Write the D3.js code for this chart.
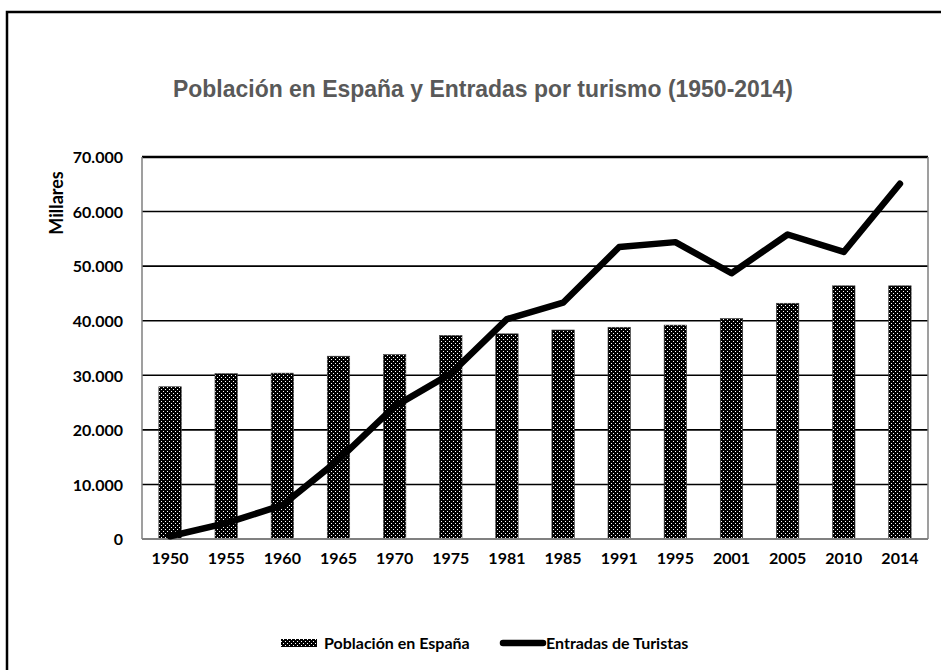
<!DOCTYPE html>
<html>
<head>
<meta charset="utf-8">
<script src="https://cdn.jsdelivr.net/npm/d3@7"></script>
<style>
  body { margin: 0; background: #fff; }
  svg { display: block; }
  .tick text { font-family: Lato, "Open Sans", sans-serif; font-weight: bold; font-size: 16px; fill: #000; }
</style>
</head>
<body>
<div id="chart"></div>
<script>
var years = ["1950","1955","1960","1965","1970","1975","1981","1985","1991","1995","2001","2005","2010","2014"];
var poblacion = [27900, 30300, 30400, 33500, 33800, 37300, 37600, 38300, 38800, 39200, 40400, 43200, 46400, 46400];
var turistas = [500, 2900, 6200, 14500, 24300, 30300, 40300, 43300, 53500, 54400, 48700, 55800, 52600, 65100];
var yTicks = [0, 10000, 20000, 30000, 40000, 50000, 60000, 70000];

var width = 941, height = 670;
var margin = {top: 157, left: 142, right: 13, bottom: 129};

var svg = d3.select("#chart").append("svg")
    .attr("width", width)
    .attr("height", height);

// dotted fill like the excel pattern
var pat = svg.append("defs").append("pattern")
    .attr("id", "dots")
    .attr("patternUnits", "userSpaceOnUse")
    .attr("width", 4).attr("height", 4);
pat.append("rect").attr("width", 4).attr("height", 4).attr("fill", "#000");
pat.append("rect").attr("x", 1).attr("y", 1).attr("width", 1).attr("height", 1).attr("fill", "#fff");
pat.append("rect").attr("x", 3).attr("y", 3).attr("width", 1).attr("height", 1).attr("fill", "#fff");

// outer frame (runs off the page right and bottom)
svg.append("path")
    .attr("d", "M7,700 V12 H960")
    .attr("fill", "none")
    .attr("stroke", "#000")
    .attr("stroke-width", 2.5);

// title, squeezed to look like a narrow face
svg.append("text")
    .attr("x", 483).attr("y", 97)
    .attr("text-anchor", "middle")
    .attr("textLength", 620)
    .attr("lengthAdjust", "spacingAndGlyphs")
    .style("font-family", "'Liberation Sans Narrow', 'Arial Narrow', 'Liberation Sans', sans-serif")
    .style("font-weight", "bold")
    .style("font-size", "24px")
    .style("fill", "#595959")
    .text("Población en España y Entradas por turismo (1950-2014)");

var x = d3.scaleBand()
    .domain(years)
    .range([margin.left, width - margin.right])
    .paddingInner(0.6)
    .paddingOuter(0.3);

var y = d3.scaleLinear()
    .domain([0, 70000])
    .range([height - margin.bottom - 2, margin.top]);

var fmt = function(d) { return d === 0 ? "0" : d3.format(",")(d).replace(/,/g, "."); };

// gridlines
svg.append("g").selectAll("line")
    .data(yTicks.slice(1))
  .enter().append("line")
    .attr("x1", margin.left).attr("x2", width - margin.right)
    .attr("y1", function(d){ return y(d); })
    .attr("y2", function(d){ return y(d); })
    .attr("stroke", "#000")
    .attr("stroke-width", function(d){ return d === 70000 ? 2.5 : 1.6; });

// plot border sides
svg.append("line")
    .attr("x1", margin.left).attr("x2", margin.left)
    .attr("y1", y(70000)).attr("y2", y(0))
    .attr("stroke", "#7f7f7f").attr("stroke-width", 1.5);
svg.append("line")
    .attr("x1", width - margin.right).attr("x2", width - margin.right)
    .attr("y1", y(70000)).attr("y2", y(0))
    .attr("stroke", "#7f7f7f").attr("stroke-width", 1.5);

var yAxis = svg.append("g")
    .attr("transform", "translate(" + margin.left + ",0)")
    .call(d3.axisLeft(y).tickValues(yTicks).tickFormat(fmt).tickSize(0).tickPadding(19));
yAxis.select(".domain").remove();
yAxis.selectAll(".tick text").attr("dy", "0.36em");

svg.append("text")
    .attr("transform", "translate(63,203) rotate(-90)")
    .attr("text-anchor", "middle")
    .style("font-family", "Lato, 'Open Sans', sans-serif")
    .style("font-weight", "bold")
    .style("font-size", "18px")
    .text("Millares");

// bars
svg.append("g").selectAll("rect")
    .data(poblacion)
  .enter().append("rect")
    .attr("x", function(d, i){ return x(years[i]); })
    .attr("y", function(d){ return y(d); })
    .attr("width", x.bandwidth())
    .attr("height", function(d){ return y(0) - y(d); })
    .attr("fill", "url(#dots)")
    .attr("stroke", "#444")
    .attr("stroke-width", 0.6);

// x axis
var xAxis = svg.append("g")
    .attr("transform", "translate(0," + y(0) + ")")
    .call(d3.axisBottom(x).tickSize(0).tickPadding(14));
xAxis.select(".domain")
    .attr("stroke", "#808080")
    .attr("stroke-width", 2)
    .attr("d", "M" + margin.left + ",0H" + (width - margin.right));
xAxis.selectAll(".tick text").style("font-size", "16px");

// tourist line
var line = d3.line()
    .x(function(d, i){ return x(years[i]) + x.bandwidth() / 2; })
    .y(function(d){ return y(d); });

svg.append("path")
    .datum(turistas)
    .attr("d", line)
    .attr("fill", "none")
    .attr("stroke", "#000")
    .attr("stroke-width", 6.5)
    .attr("stroke-linejoin", "round")
    .attr("stroke-linecap", "round");

// legend
var legend = svg.append("g")
    .style("font-family", "Lato, 'Open Sans', sans-serif")
    .style("font-size", "16px")
    .style("font-weight", "bold");

legend.append("rect")
    .attr("x", 281).attr("y", 639)
    .attr("width", 36).attr("height", 8)
    .attr("fill", "url(#dots)");
legend.append("text")
    .attr("x", 324).attr("y", 649)
    .text("Población en España");

legend.append("line")
    .attr("x1", 503).attr("x2", 543)
    .attr("y1", 643).attr("y2", 643)
    .attr("stroke", "#000")
    .attr("stroke-width", 6.5)
    .attr("stroke-linecap", "round");
legend.append("text")
    .attr("x", 546).attr("y", 649)
    .text("Entradas de Turistas");
</script>
</body>
</html>
